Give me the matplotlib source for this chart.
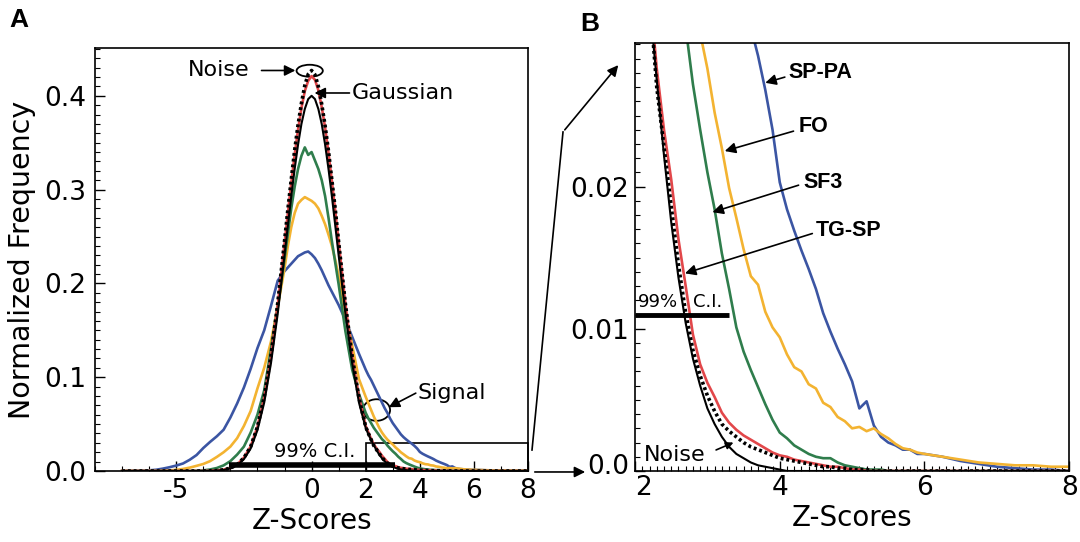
import numpy as np
import matplotlib
matplotlib.use("Agg")
import matplotlib.pyplot as plt
import matplotlib.transforms as mtransforms
from matplotlib.patches import Ellipse, Rectangle, FancyArrowPatch
from matplotlib.lines import Line2D
from matplotlib.ticker import MultipleLocator, FixedLocator

plt.rcParams['font.family'] = ['DejaVu Sans']
plt.rcParams['axes.unicode_minus'] = False

# ---- data ----
# central part: bins of 0.25, finer (0.125) around the peak
x_core = np.array([-7.0, -6.75, -6.5, -6.25, -6.0, -5.75, -5.5, -5.25, -5.0, -4.75,
                   -4.5, -4.25, -4.0, -3.75, -3.5, -3.25, -3.0, -2.75, -2.5, -2.25,
                   -2.0, -1.75, -1.5, -1.25, -1.0, -0.875, -0.75, -0.625, -0.5, -0.375,
                   -0.25, -0.125, 0.0, 0.125, 0.25, 0.375, 0.5, 0.625, 0.75, 0.875,
                   1.0, 1.25, 1.5, 1.75])
# right tail, bins of 0.1 from 2 to 6 then 0.25 up to 8
x_tail = np.array([2.0, 2.1, 2.2, 2.3, 2.4, 2.5, 2.6, 2.7, 2.8, 2.9,
                   3.0, 3.1, 3.2, 3.3, 3.4, 3.5, 3.6, 3.7, 3.8, 3.9,
                   4.0, 4.1, 4.2, 4.3, 4.4, 4.5, 4.6, 4.7, 4.8, 4.9,
                   5.0, 5.1, 5.2, 5.3, 5.4, 5.5, 5.6, 5.7, 5.8, 5.9,
                   6.0, 6.25, 6.5, 6.75, 7.0, 7.25, 7.5, 7.75, 8.0])

gauss_core = [0, 0, 0, 0, 0, 0, 0, 0, 0, 0, 0, 0, 0, 0.0001, 0.0004, 0.0011,
              0.0027, 0.0060, 0.0126, 0.0240, 0.0436, 0.0730, 0.1150, 0.1680,
              0.2300, 0.2617, 0.2930, 0.3220, 0.3480, 0.3700, 0.3860, 0.3965,
              0.4000, 0.3965, 0.3860, 0.3700, 0.3480, 0.3220, 0.2930, 0.2617,
              0.2300, 0.1680, 0.1150, 0.0730]
gauss_tail = [0.0460, 0.0390, 0.0330, 0.0275, 0.0222, 0.0175, 0.0136, 0.0104, 0.0079, 0.0060,
              0.0044, 0.0033, 0.0024, 0.0017, 0.0012, 0.0009, 0.0006, 0.0004, 0.0003, 0.0002,
              0.0001, 0, 0, 0, 0, 0, 0, 0, 0, 0,
              0, 0, 0, 0, 0, 0, 0, 0, 0, 0,
              0, 0, 0, 0, 0, 0, 0, 0, 0]

noise_core = [0, 0, 0, 0, 0, 0, 0, 0, 0, 0, 0, 0, 0.0001, 0.0002, 0.0005, 0.0013,
              0.0031, 0.0068, 0.0140, 0.0260, 0.0470, 0.0790, 0.1230, 0.1790,
              0.2450, 0.2790, 0.3110, 0.3420, 0.3690, 0.3920, 0.4110, 0.4230,
              0.4270, 0.4225, 0.4100, 0.3910, 0.3680, 0.3410, 0.3100, 0.2790,
              0.2440, 0.1780, 0.1220, 0.0780]
noise_tail = [0.0470, 0.0400, 0.0335, 0.0270, 0.0228, 0.0186, 0.0145, 0.0111, 0.0085, 0.0067,
              0.0053, 0.0042, 0.0033, 0.0028, 0.0024, 0.0020, 0.0017, 0.0015, 0.0013, 0.0011,
              0.0009, 0.0008, 0.0007, 0.0006, 0.0005, 0.0004, 0.0003, 0.0003, 0.0002, 0.0002,
              0.0001, 0.0001, 0.0001, 0, 0, 0, 0, 0, 0, 0,
              0, 0, 0, 0, 0, 0, 0, 0, 0]

tgsp_core = [0, 0, 0, 0, 0, 0, 0, 0, 0, 0, 0, 0, 0.0001, 0.0002, 0.0006, 0.0014,
             0.0032, 0.0070, 0.0142, 0.0262, 0.0470, 0.0780, 0.1210, 0.1770,
             0.2420, 0.2750, 0.3070, 0.3370, 0.3640, 0.3870, 0.4050, 0.4160,
             0.4210, 0.4170, 0.4060, 0.3880, 0.3660, 0.3390, 0.3090, 0.2770,
             0.2440, 0.1780, 0.1220, 0.0790]
tgsp_tail = [0.0480, 0.0410, 0.0340, 0.0283, 0.0240, 0.0205, 0.0163, 0.0130, 0.0096, 0.0075,
             0.0062, 0.0052, 0.0041, 0.0034, 0.0029, 0.0025, 0.0022, 0.0019, 0.0016, 0.0013,
             0.0011, 0.0010, 0.0008, 0.0007, 0.0006, 0.0005, 0.0004, 0.0003, 0.0003, 0.0002,
             0.0001, 0.0001, 0, 0, 0, 0, 0, 0, 0, 0,
             0, 0, 0, 0, 0, 0, 0, 0, 0]

sf3_core = [0, 0, 0, 0, 0, 0, 0, 0, 0, 0, 0.0001, 0.0003, 0.0007, 0.0016, 0.0032, 0.0060,
            0.0105, 0.0175, 0.0260, 0.0410, 0.0600, 0.0860, 0.1300, 0.1750,
            0.2260, 0.2530, 0.2800, 0.3030, 0.3220, 0.3360, 0.3450, 0.3370,
            0.3400, 0.3310, 0.3220, 0.3100, 0.2930, 0.2700, 0.2450, 0.2220,
            0.1990, 0.1490, 0.1080, 0.0820]
sf3_tail = [0.0620, 0.0560, 0.0510, 0.0460, 0.0420, 0.0380, 0.0340, 0.0312, 0.0272, 0.0240,
            0.0210, 0.0184, 0.0153, 0.0128, 0.0101, 0.0084, 0.0071, 0.0059, 0.0047, 0.0036,
            0.0027, 0.0023, 0.0018, 0.0015, 0.0012, 0.0010, 0.0009, 0.0009, 0.0006, 0.0004,
            0.0003, 0.0002, 0.0001, 0.0001, 0.0001, 0, 0, 0, 0, 0,
            0, 0, 0, 0, 0, 0, 0, 0, 0]

fo_core = [0, 0, 0, 0, 0, 0, 0.0002, 0.0006, 0.0012, 0.0022, 0.0036, 0.0055, 0.0075, 0.0105,
           0.0150, 0.0200, 0.0260, 0.0350, 0.0480, 0.0640, 0.0880, 0.1100, 0.1380, 0.1750,
           0.2160, 0.2400, 0.2600, 0.2750, 0.2850, 0.2890, 0.2920, 0.2900,
           0.2880, 0.2850, 0.2800, 0.2720, 0.2630, 0.2520, 0.2400, 0.2250,
           0.2080, 0.1680, 0.1340, 0.0980]
fo_tail = [0.0790, 0.0720, 0.0650, 0.0580, 0.0520, 0.0460, 0.0410, 0.0370, 0.0335, 0.0308,
           0.0283, 0.0252, 0.0227, 0.0199, 0.0178, 0.0156, 0.0137, 0.0131, 0.0112, 0.0101,
           0.0094, 0.0082, 0.0073, 0.0070, 0.0061, 0.0058, 0.0048, 0.0045, 0.0038, 0.0035,
           0.0030, 0.0031, 0.0028, 0.0030, 0.0026, 0.0023, 0.0019, 0.0016, 0.0015, 0.0013,
           0.0012, 0.0010, 0.0008, 0.0006, 0.0005, 0.0004, 0.0004, 0.0003, 0.0003]

sppa_core = [0, 0, 0.0002, 0.0004, 0.0007, 0.0013, 0.0025, 0.0040, 0.0058, 0.0080, 0.0120,
             0.0170, 0.0245, 0.0310, 0.0370, 0.0440, 0.0570, 0.0720, 0.0890, 0.1090,
             0.1310, 0.1500, 0.1760, 0.2030, 0.2130, 0.2170, 0.2210, 0.2250, 0.2290,
             0.2310, 0.2330, 0.2340, 0.2310, 0.2270, 0.2210, 0.2140, 0.2060, 0.1980,
             0.1910, 0.1840, 0.1770, 0.1610, 0.1430, 0.1250]
sppa_tail = [0.1080, 0.1020, 0.0970, 0.0910, 0.0850, 0.0790, 0.0730, 0.0670, 0.0620, 0.0560,
             0.0510, 0.0470, 0.0430, 0.0390, 0.0360, 0.0335, 0.0312, 0.0292, 0.0268, 0.0240,
             0.0203, 0.0184, 0.0169, 0.0155, 0.0142, 0.0128, 0.0111, 0.0098, 0.0086, 0.0075,
             0.0063, 0.0044, 0.0049, 0.0032, 0.0024, 0.0020, 0.0018, 0.0015, 0.0015, 0.0012,
             0.0012, 0.0010, 0.0007, 0.0005, 0.0003, 0.0002, 0.0001, 0.0001, 0.0000]

# 99% confidence interval markers
ci_a = [-3.05, 3.1]
ci_a_level = 0.0065
ci_b = [2.0, 3.3]
ci_b_level = 0.011

# drawing order: broad signals first, noise and gaussian on top
curves = [
    (sppa_core, sppa_tail, dict(color='#3b55a3', lw=1.9)),
    (fo_core, fo_tail, dict(color='#f3b331', lw=1.9)),
    (sf3_core, sf3_tail, dict(color='#2f7d4c', lw=1.9)),
    (tgsp_core, tgsp_tail, dict(color='#e2474a', lw=1.9)),
    (noise_core, noise_tail, dict(color='black', lw=2.6, ls=(0, (0.8, 0.8)))),
    (gauss_core, gauss_tail, dict(color='black', lw=1.5)),
]

fig = plt.figure(figsize=(10.8, 5.42), dpi=100)
axA = fig.add_axes([0.088, 0.131, 0.401, 0.7805])
axB = fig.add_axes([0.588, 0.131, 0.402, 0.7897])

for core, tail, st in curves:
    axA.plot(np.concatenate([x_core, x_tail]), np.concatenate([core, tail]), **st)
    axB.plot(x_tail, tail, **st)

arrow = dict(arrowstyle='-|>', color='black', lw=1.2, mutation_scale=16,
             shrinkA=0, shrinkB=0)

# ---- panel A ----
axA.set_xlim(-8, 8)
axA.set_ylim(0, 0.451)
axA.set_xticks([-5, 0, 2, 4, 6, 8])
axA.xaxis.set_minor_locator(FixedLocator([-8, -7, -6, -4, -3, -2, -1, 1, 3, 5, 7]))
axA.set_yticks([0, 0.1, 0.2, 0.3, 0.4])
axA.set_yticklabels(['0.0', '0.1', '0.2', '0.3', '0.4'])
axA.yaxis.set_minor_locator(MultipleLocator(0.01))
axA.set_xlabel('Z-Scores', fontsize=20, labelpad=2)
axA.set_ylabel('Normalized Frequency', fontsize=20.5, labelpad=6)

axA.plot(ci_a, [ci_a_level, ci_a_level], color='black', lw=4, solid_capstyle='butt')
axA.text(0.1, 0.021, '99% C.I.', ha='center', va='center', fontsize=14)
axA.add_patch(Rectangle((2, 0), 6, 0.03, fill=False, lw=1.2, clip_on=False))

axA.add_patch(Ellipse((-0.07, 0.4267), 0.97, 0.0128, fill=False, lw=1.3))
axA.text(-2.3, 0.428, 'Noise', ha='right', va='center', fontsize=16)
axA.annotate('', xy=(-0.6, 0.427), xytext=(-1.85, 0.427), arrowprops=arrow)
axA.text(1.48, 0.403, 'Gaussian', ha='left', va='center', fontsize=16)
axA.annotate('', xy=(0.11, 0.403), xytext=(1.4, 0.403), arrowprops=arrow)
axA.add_patch(Ellipse((2.4, 0.065), 1.0, 0.023, fill=False, lw=1.3))
axA.text(3.93, 0.083, 'Signal', ha='left', va='center', fontsize=16)
axA.annotate('', xy=(2.85, 0.068), xytext=(3.85, 0.083), arrowprops=arrow)

# ---- panel B ----
axB.set_xlim(2, 8)
axB.set_ylim(0, 0.0301)
axB.set_xticks([2, 4, 6, 8])
axB.xaxis.set_minor_locator(MultipleLocator(0.1))
axB.set_yticks([0, 0.01, 0.02])
axB.set_yticklabels(['0.0', '0.01', '0.02'])
axB.yaxis.set_minor_locator(MultipleLocator(0.001))
axB.set_xlabel('Z-Scores', fontsize=20, labelpad=2)

axB.plot(ci_b, [ci_b_level, ci_b_level], color='black', lw=3.5, solid_capstyle='butt')
axB.text(2.04, 0.0119, '99%', ha='left', va='center', fontsize=13)
axB.text(2.8, 0.0119, 'C.I.', ha='left', va='center', fontsize=13)

bold = dict(fontsize=15.5, weight='bold', family=['Liberation Sans Narrow', 'Liberation Sans'],
            ha='left', va='center')
axB.text(4.12, 0.0280, 'SP-PA', **bold)
axB.annotate('', xy=(3.80, 0.0273), xytext=(4.07, 0.0277), arrowprops=arrow)
axB.text(4.26, 0.0242, 'FO', **bold)
axB.annotate('', xy=(3.24, 0.0225), xytext=(4.19, 0.0239), arrowprops=arrow)
axB.text(4.33, 0.0203, 'SF3', **bold)
axB.annotate('', xy=(3.07, 0.0182), xytext=(4.26, 0.0201), arrowprops=arrow)
axB.text(4.50, 0.0169, 'TG-SP', **bold)
axB.annotate('', xy=(2.69, 0.0139), xytext=(4.45, 0.0167), arrowprops=arrow)
axB.text(2.12, 0.00116, 'Noise', ha='left', va='center', fontsize=16)
axB.annotate('', xy=(3.36, 0.0020), xytext=(3.12, 0.00148),
             arrowprops=dict(arrow, mutation_scale=11))

for ax in (axA, axB):
    for sp in ax.spines.values():
        sp.set_linewidth(1.2)
    ax.tick_params(which='both', direction='in', top=False, right=False)
    ax.tick_params(which='major', length=7, width=1, labelsize=19)
    ax.tick_params(which='minor', length=3.5, width=0.8)
axA.tick_params(axis='y', pad=6)
axA.tick_params(axis='x', pad=5)
axB.tick_params(axis='y', pad=4)
axB.tick_params(axis='x', pad=3)

# nudge the two corner labels of panel B apart, as in the original
lab_x2 = axB.get_xticklabels()[0]
lab_x2.set_transform(lab_x2.get_transform() +
                     mtransforms.ScaledTranslation(6 / 72, 0, fig.dpi_scale_trans))
lab_y0 = axB.get_yticklabels()[0]
lab_y0.set_transform(lab_y0.get_transform() +
                     mtransforms.ScaledTranslation(0, 5 / 72, fig.dpi_scale_trans))

# zoom connectors between the panels (figure fractions)
fig.add_artist(Line2D([0.4926, 0.5213], [0.1697, 0.7565], color='black', lw=1.2,
                      transform=fig.transFigure))
fig.add_artist(FancyArrowPatch((0.5213, 0.7565), (0.5741, 0.8838), transform=fig.transFigure,
                               arrowstyle='-|>', mutation_scale=16, lw=1.2, color='black'))
fig.add_artist(FancyArrowPatch((0.4926, 0.1292), (0.5444, 0.1292), transform=fig.transFigure,
                               arrowstyle='-|>', mutation_scale=16, lw=1.2, color='black'))

fig.text(0.009, 0.985, 'A', fontsize=19, weight='bold', va='top', family=['Liberation Sans'])
fig.text(0.537, 0.978, 'B', fontsize=19, weight='bold', va='top', family=['Liberation Sans'])

fig.savefig('out.png', dpi=100, facecolor='white')
